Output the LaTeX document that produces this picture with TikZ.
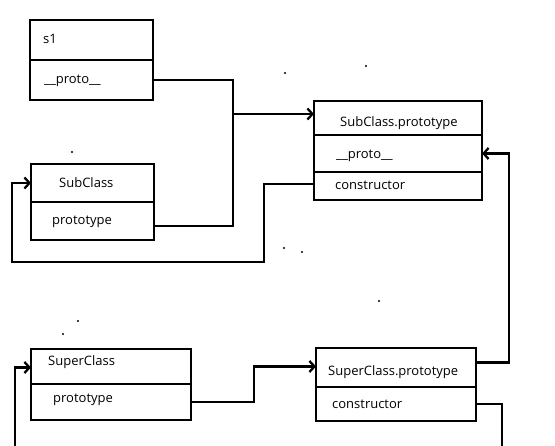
\documentclass[tikz,border=0pt]{standalone}
\usepackage{fontspec}
\setmainfont{Open Sans}
\usetikzlibrary{positioning,arrows.meta}

\begin{document}
\begin{tikzpicture}[x=1pt,y=-1pt,
    cell/.style={draw,line width=2.5pt,rectangle,inner sep=0pt,outer sep=0pt},
    txt/.style={anchor=west,inner sep=0pt,text height=1.5ex,text depth=.25ex,
      font=\fontsize{13}{15}\selectfont},
    link/.style={line width=2.3pt},
    >={Straight Barb[length=5pt,width=11pt,line width=2.3pt]},
    speck/.style={fill=black,circle,inner sep=0pt,minimum size=2.4pt}]

    \useasboundingbox (0,0) rectangle (555,446);

    % the boxes

    \node[cell,minimum width=123pt,minimum height=40pt] (s1) at (91.5,40) {};
    \node[cell,minimum width=123pt,minimum height=40pt,below=0pt of s1] (s1proto) {};

    \node[cell,minimum width=123pt,minimum height=38pt] (sub) at (92.5,183) {};
    \node[cell,minimum width=123pt,minimum height=38pt,below=0pt of sub] (subproto) {};

    \node[cell,minimum width=168pt,minimum height=34pt] (subp) at (398,118) {};
    \node[cell,minimum width=168pt,minimum height=37pt,below=0pt of subp] (subpproto) {};
    \node[cell,minimum width=168pt,minimum height=28pt,below=0pt of subpproto] (subpcons) {};

    \node[cell,minimum width=160pt,minimum height=35pt] (sup) at (111,366.5) {};
    \node[cell,minimum width=160pt,minimum height=36pt,below=0pt of sup] (supproto) {};

    \node[cell,minimum width=160pt,minimum height=39pt] (supp) at (396,367.5) {};
    \node[cell,minimum width=160pt,minimum height=34pt,below=0pt of supp] (suppcons) {};

    % the texts

    \node[txt] (ts1) at (43,40) {s1};
    \node[txt] (ts1proto) at (44,80) {\_\_proto\_\_};
    \node[txt] (tsub) at (59,184) {SubClass};
    \node[txt] (tsubproto) at (52,221) {prototype};
    \node[txt] (tsubp) at (340,123) {SubClass.prototype};
    \node[txt] (tsubpproto) at (336,155) {\_\_proto\_\_};
    \node[txt] (tsubpcons) at (335,186) {constructor};
    \node[txt] (tsup) at (48,362) {SuperClass};
    \node[txt] (tsupproto) at (53,399) {prototype};
    \node[txt] (tsupp) at (328,372) {SuperClass.prototype};
    \node[txt] (tsuppcons) at (332,405) {constructor};

    % the links

    \coordinate (j1) at (233,114);
    \coordinate (c1) at (264,262);
    \coordinate (c2) at (12,262);
    \coordinate (j3) at (254,384);
    \coordinate (r1) at (509,260);
    \coordinate (b1) at (15,446);
    \coordinate (b2) at (502,446);

    \draw[link] (s1proto.east) -| (j1);
    \draw[link] ([yshift=-5pt]subproto.east) -| (j1);
    \draw[link,->] (j1) -- (j1 -| subp.west);
    \draw[link,->] ([yshift=2pt]subpcons.west) -| (c1) -- (c2) |- (sub.west);
    \draw[link,->] (supproto.east) -| (j3) |- ([yshift=1pt]supp.west);
    \draw[link,->] ([yshift=5pt]supp.east) -| (r1) |- (subpproto.east);
    \draw[link] (suppcons.east) -| (b2);
    \draw[link,->] (b1) |- ([yshift=-1pt]sup.west);

    % the specks

    \foreach \p/\q in {285/73,366/66,72/152,284/248,302/252,379/301,78/321,63/334}
      \node[speck] at (\p,\q) {};
  \end{tikzpicture}
\end{document}
